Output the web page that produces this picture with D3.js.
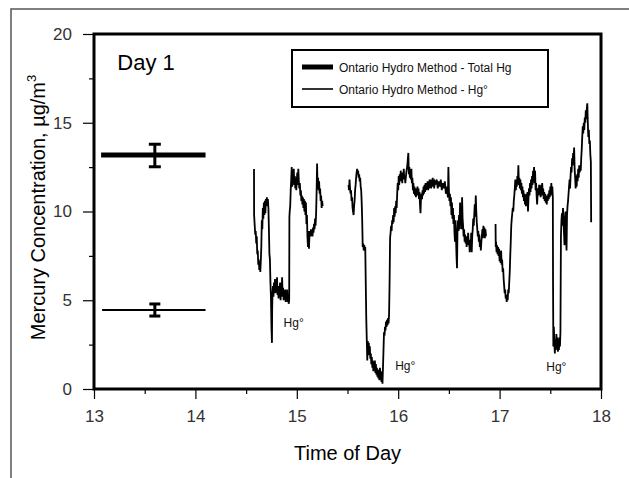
<!DOCTYPE html>
<html><head><meta charset="utf-8">
<script src="https://cdn.jsdelivr.net/npm/d3@7/dist/d3.min.js"></script>
<style>body{margin:0;background:#fff}svg{display:block}</style>
</head><body>
<script>
// ---- data ----
const xTicks = [13, 14, 15, 16, 17, 18];
const xMinorTicks = [13.5, 14.5, 15.5, 16.5, 17.5];
const yTicks = [0, 5, 10, 15, 20];
const yMinorTicks = [2.5, 7.5, 12.5, 17.5];
const legendLabels = ["Ontario Hydro Method - Total Hg", "Ontario Hydro Method - Hg°"];
// Ontario Hydro averages: [tStart, tEnd, tMid, mean, low, high]
const ohTotal = [13.07, 14.1, 13.6, 13.18, 12.52, 13.79];
const ohElemental = [13.08, 14.1, 13.6, 4.45, 4.11, 4.79];
const hgLabels = [[14.87, 3.5], [15.97, 1.05], [17.46, 1.0]];
const seg1 = [[14.578,12.4],[14.579,9.8],[14.585,9.2],[14.59,8.7],[14.595,8.9],[14.60,8.2],[14.605,8.6],[14.61,7.6],[14.615,7.8],[14.62,7.0],[14.625,7.3],[14.63,6.7],[14.635,6.9],[14.64,6.6],[14.645,7.2],[14.65,8.0],[14.655,9.5],[14.66,9.0],[14.665,10.2],[14.67,9.6],[14.675,10.5],[14.68,9.8],[14.685,10.6],[14.69,9.9],[14.695,10.7],[14.70,10.3],[14.705,10.8],[14.71,10.4],[14.715,10.7],[14.72,10.2],[14.725,9.0],[14.73,7.6],[14.735,7.3],[14.74,6.0],[14.745,5.2],[14.75,3.5],[14.755,2.6],[14.757,4.5],[14.76,5.3],[14.765,5.8],[14.77,5.2],[14.775,6.0],[14.78,5.5],[14.785,6.2],[14.79,5.4],[14.795,5.9],[14.80,5.6],[14.805,6.3],[14.81,5.3],[14.815,5.8],[14.82,5.1],[14.825,5.7],[14.83,5.4],[14.835,6.0],[14.84,5.0],[14.845,5.6],[14.85,5.3],[14.855,6.3],[14.86,5.2],[14.865,5.7],[14.87,5.0],[14.875,5.5],[14.88,5.2],[14.885,5.6],[14.89,4.9],[14.895,5.4],[14.90,5.2],[14.905,5.6],[14.91,4.9],[14.915,5.3],[14.92,4.8],[14.925,5.0],[14.927,9.7],[14.93,10.0],[14.935,10.3],[14.94,11.2],[14.945,11.8],[14.95,12.5],[14.955,11.4],[14.96,12.3],[14.965,11.6],[14.97,12.4],[14.975,11.5],[14.98,12.0],[14.985,11.3],[14.99,11.9],[14.995,11.2],[15.00,11.8],[15.005,12.2],[15.01,11.5],[15.015,12.4],[15.02,11.7],[15.025,11.3],[15.03,11.6],[15.035,10.9],[15.04,11.2],[15.045,10.6],[15.05,10.9],[15.055,10.4],[15.06,10.8],[15.065,10.2],[15.07,10.7],[15.075,10.0],[15.08,10.6],[15.085,9.8],[15.09,10.5],[15.095,9.3],[15.10,9.8],[15.105,8.6],[15.11,8.0],[15.115,8.9],[15.12,7.9],[15.125,8.7],[15.13,8.9],[15.135,8.6],[15.14,9.0],[15.145,8.7],[15.15,8.9],[15.155,8.6],[15.16,9.1],[15.165,8.8],[15.17,9.3],[15.175,9.0],[15.18,9.6],[15.185,9.2],[15.19,9.8],[15.195,11.0],[15.20,12.7],[15.205,11.3],[15.21,11.9],[15.215,11.2],[15.22,11.7],[15.225,11.0],[15.23,11.3],[15.235,10.6],[15.24,10.9],[15.245,10.2],[15.25,10.6],[15.255,10.3]];
const seg2 = [[15.51,11.5],[15.515,11.2],[15.52,11.8],[15.525,11.3],[15.53,11.0],[15.535,11.2],[15.54,10.6],[15.545,10.8],[15.55,10.2],[15.555,10.0],[15.56,9.8],[15.565,10.3],[15.57,10.6],[15.575,11.2],[15.58,11.5],[15.585,11.9],[15.59,12.2],[15.595,12.4],[15.60,12.1],[15.605,12.3],[15.61,11.9],[15.615,12.1],[15.62,11.7],[15.625,11.9],[15.63,11.4],[15.635,11.2],[15.64,10.5],[15.645,9.5],[15.65,8.0],[15.655,8.2],[15.66,7.8],[15.665,8.1],[15.67,7.9],[15.675,8.0],[15.68,6.0],[15.685,4.0],[15.69,2.8],[15.695,1.6],[15.70,2.7],[15.705,2.2],[15.71,2.6],[15.715,1.9],[15.72,2.4],[15.725,1.7],[15.73,2.0],[15.735,1.4],[15.74,1.8],[15.745,1.2],[15.75,1.6],[15.755,1.0],[15.76,1.5],[15.765,1.1],[15.77,1.6],[15.775,0.9],[15.78,1.4],[15.785,0.8],[15.79,1.2],[15.795,0.7],[15.80,1.1],[15.805,0.6],[15.81,1.0],[15.815,0.5],[15.82,1.2],[15.825,0.6],[15.83,1.0],[15.835,0.4],[15.84,0.8],[15.845,0.3],[15.85,1.2],[15.855,2.2],[15.86,3.2],[15.865,3.0],[15.87,3.5],[15.875,3.3],[15.88,3.8],[15.885,3.5],[15.89,3.9],[15.895,3.6],[15.90,4.0],[15.905,3.7],[15.91,4.2],[15.915,6.0],[15.92,8.5],[15.925,8.8],[15.93,9.2],[15.935,8.9],[15.94,9.5],[15.945,9.3],[15.95,9.8],[15.955,9.4],[15.96,10.2],[15.965,9.7],[15.97,10.3],[15.975,9.9],[15.98,10.6],[15.985,10.2],[15.99,11.0],[15.995,11.6],[16.00,11.2],[16.005,12.0],[16.01,11.5],[16.015,12.1],[16.02,11.7],[16.025,12.3],[16.03,11.8],[16.035,12.1],[16.04,11.6],[16.045,12.2],[16.05,11.9],[16.055,12.4],[16.06,11.8],[16.065,12.0],[16.07,11.6],[16.08,12.2],[16.09,12.6],[16.10,13.3],[16.105,12.1],[16.11,12.5],[16.115,11.9],[16.12,12.3],[16.125,11.8],[16.13,12.4],[16.135,11.6],[16.14,11.9],[16.145,11.2],[16.15,11.6],[16.155,11.0],[16.16,11.4],[16.165,10.9],[16.17,11.3],[16.175,10.8],[16.18,11.2],[16.185,10.9],[16.19,11.4],[16.195,10.9],[16.20,11.3],[16.205,10.7],[16.21,11.1],[16.215,10.4],[16.22,9.9],[16.225,10.8],[16.23,11.0],[16.235,10.7],[16.24,11.2],[16.245,10.9],[16.25,11.4],[16.255,11.0],[16.26,11.5],[16.265,11.1],[16.27,11.6],[16.275,11.2],[16.28,11.6],[16.285,11.3],[16.29,11.7],[16.295,11.2],[16.30,11.6],[16.305,11.3],[16.31,11.8],[16.315,11.4],[16.32,11.8],[16.325,11.3],[16.33,11.7],[16.335,11.5],[16.34,11.9],[16.345,11.4],[16.35,11.8],[16.355,11.3],[16.36,11.7],[16.37,11.6],[16.38,11.8],[16.39,11.3],[16.40,11.7],[16.41,11.4],[16.42,11.8],[16.43,11.2],[16.44,11.6],[16.45,11.3],[16.46,11.7],[16.47,11.0],[16.48,11.4],[16.49,10.8],[16.495,12.5],[16.50,11.2],[16.505,10.6],[16.51,11.0],[16.515,10.3],[16.52,10.8],[16.525,9.8],[16.53,10.5],[16.535,9.6],[16.54,10.2],[16.545,9.3],[16.55,9.8],[16.555,8.8],[16.56,8.3],[16.565,9.5],[16.57,8.5],[16.575,7.5],[16.58,6.8],[16.585,9.0],[16.59,9.5],[16.595,8.9],[16.60,9.8],[16.605,9.0],[16.61,10.5],[16.615,9.3],[16.62,10.0],[16.625,9.0],[16.63,10.8],[16.635,9.6],[16.64,9.2],[16.645,8.6],[16.65,9.0],[16.655,8.3],[16.66,8.7],[16.665,8.2],[16.67,8.6],[16.675,8.0],[16.68,8.5],[16.685,8.3],[16.69,8.8],[16.695,8.1],[16.70,8.4],[16.705,7.7],[16.71,8.3],[16.715,8.0],[16.72,8.8],[16.725,7.7],[16.73,8.6],[16.735,9.0],[16.74,9.6],[16.745,9.2],[16.75,9.8],[16.755,10.4],[16.76,9.7],[16.765,10.9],[16.77,10.0],[16.775,9.4],[16.78,9.0],[16.785,8.6],[16.79,8.9],[16.795,8.3],[16.80,8.7],[16.805,8.0],[16.81,8.4],[16.815,7.8],[16.82,8.3],[16.825,8.6],[16.83,9.0],[16.835,8.5],[16.84,9.2],[16.845,8.6],[16.85,9.1],[16.855,8.5],[16.86,9.0],[16.866,8.6]];
const seg3 = [[16.96,9.3],[16.962,8.0],[16.965,8.3],[16.97,7.7],[16.975,8.1],[16.98,7.6],[16.985,8.0],[16.99,7.5],[16.995,7.9],[17.00,7.2],[17.005,7.6],[17.01,7.1],[17.015,7.8],[17.02,7.0],[17.025,7.3],[17.03,6.6],[17.035,6.8],[17.04,6.2],[17.045,5.8],[17.05,5.4],[17.055,5.6],[17.06,5.1],[17.065,5.3],[17.07,4.9],[17.075,5.2],[17.08,5.0],[17.085,5.6],[17.09,5.4],[17.095,6.0],[17.10,6.6],[17.105,7.5],[17.11,8.3],[17.115,9.2],[17.12,9.6],[17.125,9.9],[17.13,10.2],[17.135,10.0],[17.14,10.6],[17.145,10.9],[17.15,11.3],[17.155,11.8],[17.16,11.2],[17.165,11.7],[17.17,11.4],[17.175,12.0],[17.18,11.6],[17.185,12.6],[17.19,11.5],[17.195,11.9],[17.20,11.3],[17.205,11.8],[17.21,11.2],[17.215,11.6],[17.22,11.0],[17.225,11.4],[17.23,10.8],[17.235,11.2],[17.24,10.6],[17.245,11.0],[17.25,10.4],[17.255,10.9],[17.26,10.3],[17.265,11.0],[17.27,10.5],[17.275,11.1],[17.28,10.0],[17.285,10.8],[17.29,11.3],[17.295,10.9],[17.30,11.6],[17.305,11.1],[17.31,11.8],[17.315,11.3],[17.32,12.0],[17.325,11.5],[17.33,12.3],[17.335,11.8],[17.34,12.5],[17.345,11.6],[17.35,12.3],[17.355,11.2],[17.36,11.6],[17.365,10.9],[17.37,10.4],[17.375,11.0],[17.38,11.3],[17.385,10.9],[17.39,11.5],[17.395,11.0],[17.40,11.4],[17.405,10.8],[17.41,11.5],[17.415,10.9],[17.42,11.6],[17.425,11.0],[17.43,11.3],[17.435,10.7],[17.44,11.1],[17.445,10.6],[17.45,11.0],[17.455,10.5],[17.46,10.9],[17.465,10.4],[17.47,10.8],[17.475,10.6],[17.48,11.0],[17.485,10.7],[17.49,11.2],[17.495,10.8],[17.50,11.4],[17.505,10.9],[17.51,11.6],[17.515,11.0],[17.52,11.4],[17.525,10.8],[17.527,6.0],[17.53,2.4],[17.535,3.5],[17.54,2.6],[17.545,2.0],[17.55,2.8],[17.555,2.2],[17.56,3.1],[17.565,2.4],[17.57,2.9],[17.575,2.1],[17.58,2.6],[17.585,2.2],[17.59,2.9],[17.595,2.4],[17.60,3.2],[17.603,6.5],[17.605,8.6],[17.61,9.5],[17.615,9.9],[17.62,9.2],[17.625,10.2],[17.63,9.6],[17.635,8.8],[17.64,8.1],[17.645,9.5],[17.65,10.0],[17.655,9.0],[17.66,7.8],[17.665,9.8],[17.67,10.3],[17.675,10.6],[17.68,11.0],[17.685,11.4],[17.69,11.8],[17.695,11.3],[17.70,12.0],[17.705,12.5],[17.71,12.2],[17.715,13.0],[17.72,12.6],[17.725,13.3],[17.73,13.0],[17.735,13.6],[17.74,12.4],[17.745,11.9],[17.75,11.3],[17.755,12.0],[17.76,11.4],[17.765,12.1],[17.77,11.7],[17.775,12.4],[17.78,11.9],[17.785,12.6],[17.79,12.2],[17.795,12.5],[17.80,12.3],[17.805,13.0],[17.81,13.5],[17.815,14.2],[17.82,14.8],[17.825,14.4],[17.83,15.0],[17.835,14.6],[17.84,15.3],[17.845,15.0],[17.85,15.7],[17.855,15.2],[17.86,15.8],[17.865,16.1],[17.87,15.0],[17.875,14.2],[17.88,14.6],[17.885,13.8],[17.89,14.0],[17.895,13.2],[17.90,12.8],[17.903,9.4]];

// ---- chart ----
const W = 629, H = 478;
const m = {left: 94, right: 28, top: 34, bottom: 89};
const pw = W - m.left - m.right, ph = H - m.top - m.bottom;
const FONT = "'Liberation Sans', Arial, sans-serif";

const svg = d3.select("body").append("svg").attr("width", W).attr("height", H)
  .style("font-family", FONT);

// outer frame
svg.append("rect").attr("x", 11).attr("y", 9).attr("width", 700).attr("height", 600)
  .attr("fill", "none").attr("stroke", "#555").attr("stroke-width", 1.5);

const x = d3.scaleLinear().domain([13, 18]).range([0, pw]);
const y = d3.scaleLinear().domain([0, 20]).range([ph, 0]);

const g = svg.append("g").attr("transform", `translate(${m.left},${m.top})`);

// axes
function styleAxis(sel) {
  sel.select(".domain").remove();
  sel.selectAll(".tick line").attr("stroke", "#000").attr("stroke-width", 1.2);
  sel.selectAll(".tick text").attr("fill", "#333").style("font-family", FONT).style("font-size", "17px");
}
g.append("g").attr("transform", `translate(0,${ph})`)
  .call(d3.axisBottom(x).tickValues(xTicks).tickSize(10).tickPadding(11).tickFormat(d3.format("d")))
  .call(styleAxis);
g.append("g").attr("transform", `translate(0,${ph})`)
  .call(d3.axisBottom(x).tickValues(xMinorTicks).tickSize(5).tickFormat(""))
  .call(styleAxis);
g.append("g")
  .call(d3.axisLeft(y).tickValues(yTicks).tickSize(11).tickPadding(11).tickFormat(d3.format("d")))
  .call(styleAxis);
g.append("g")
  .call(d3.axisLeft(y).tickValues(yMinorTicks).tickSize(5).tickFormat(""))
  .call(styleAxis);

// plot frame
g.append("rect").attr("x", 0).attr("y", 0).attr("width", pw).attr("height", ph)
  .attr("fill", "none").attr("stroke", "#000").attr("stroke-width", 3);

// time series
const line = d3.line().x(d => x(d[0])).y(d => y(d[1]));
g.selectAll("path.series").data([seg1, seg2, seg3]).join("path")
  .attr("class", "series").attr("d", line)
  .attr("fill", "none").attr("stroke", "#000").attr("stroke-width", 1.8)
  .attr("stroke-linejoin", "miter");

// Ontario Hydro averages with error bars
function ohMark(d, lw, ew, cap) {
  const [t0, t1, tm, mean, lo, hi] = d;
  g.append("line").attr("x1", x(t0)).attr("x2", x(t1)).attr("y1", y(mean)).attr("y2", y(mean))
    .attr("stroke", "#000").attr("stroke-width", lw);
  g.append("line").attr("x1", x(tm)).attr("x2", x(tm)).attr("y1", y(lo)).attr("y2", y(hi))
    .attr("stroke", "#000").attr("stroke-width", ew);
  [lo, hi].forEach(v => g.append("line").attr("x1", x(tm) - cap / 2).attr("x2", x(tm) + cap / 2)
    .attr("y1", y(v)).attr("y2", y(v)).attr("stroke", "#000").attr("stroke-width", ew));
}
ohMark(ohTotal, 5, 3, 12);
ohMark(ohElemental, 2, 3, 11);

// Hg° labels
g.selectAll("text.hg").data(hgLabels).join("text").attr("class", "hg")
  .attr("x", d => x(d[0])).attr("y", d => y(d[1]))
  .style("font-size", "12px").attr("fill", "#111").text("Hg°");

// Day 1
g.append("text").attr("x", x(13.23)).attr("y", y(20) + 36)
  .style("font-size", "22px").attr("fill", "#000").text("Day 1");

// legend
const lg = svg.append("g");
lg.append("rect").attr("x", 292).attr("y", 50).attr("width", 256).attr("height", 57)
  .attr("fill", "#fff").attr("stroke", "#000").attr("stroke-width", 2);
const legRows = [{lw: 5, yy: 67}, {lw: 1.6, yy: 89}];
legRows.forEach((r, i) => {
  lg.append("line").attr("x1", 302).attr("x2", 333).attr("y1", r.yy).attr("y2", r.yy)
    .attr("stroke", "#000").attr("stroke-width", r.lw);
  lg.append("text").attr("x", 339).attr("y", r.yy + 4.5).style("font-size", "12px")
    .attr("fill", "#111").text(legendLabels[i]);
});

// axis titles
svg.append("text").attr("x", m.left + pw / 2).attr("y", 460).attr("text-anchor", "middle")
  .style("font-size", "20px").attr("fill", "#000").text("Time of Day");
const yt = svg.append("text").attr("transform", `translate(45,${m.top + ph / 2 - 4}) rotate(-90)`)
  .attr("text-anchor", "middle").style("font-size", "20px").attr("fill", "#000");
yt.append("tspan").text("Mercury Concentration, µg/m");
yt.append("tspan").attr("dy", -9).style("font-size", "13px").text("3");
</script>
</body></html>
